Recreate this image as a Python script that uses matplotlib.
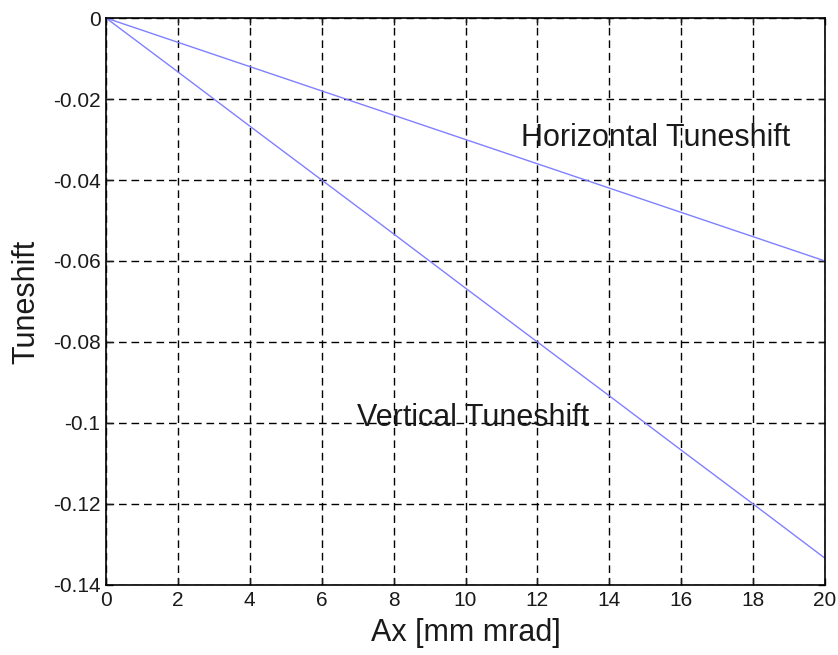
import matplotlib
matplotlib.use("Agg")
import matplotlib.pyplot as plt

plt.rcParams['font.family'] = ['Liberation Sans', 'DejaVu Sans']

# Betatron amplitude Ax [mm mrad]
ax_amp = [0, 2, 4, 6, 8, 10, 12, 14, 16, 18, 20]
# Tune shifts vs. horizontal amplitude
horizontal_shift = [0, -0.006, -0.012, -0.018, -0.024, -0.030, -0.036, -0.042, -0.048, -0.054, -0.060]
vertical_shift = [0, -0.0133, -0.0267, -0.040, -0.0533, -0.0667, -0.080, -0.0933, -0.1067, -0.120, -0.1334]

xticks = [0, 2, 4, 6, 8, 10, 12, 14, 16, 18, 20]
yticks = [0, -0.02, -0.04, -0.06, -0.08, -0.1, -0.12, -0.14]
ytick_labels = ['0', '-0.02', '-0.04', '-0.06', '-0.08', '-0.1', '-0.12', '-0.14']

fig = plt.figure(figsize=(8.38, 6.55), dpi=100)
ax = fig.add_axes([0.1265, 0.1069, 0.858, 0.8656])

line_color = '#8080ff'
ax.plot(ax_amp, horizontal_shift, color=line_color, lw=1.0)
ax.plot(ax_amp, vertical_shift, color=line_color, lw=1.0)

ax.set_xlim(0, 20)
ax.set_ylim(-0.14, 0)
ax.set_xticks(xticks)
ax.set_xticklabels([str(t) for t in xticks])
ax.set_yticks(yticks)
ax.set_yticklabels(ytick_labels)

ax.grid(True, color='black', linestyle=(0, (5.5, 3.5)), linewidth=1.0)
ax.tick_params(direction='in', top=True, right=True, length=5, width=1.0,
               labelsize=15, pad=4, colors='#1a1a1a')
for s in ax.spines.values():
    s.set_linewidth(1.2)

ax.set_xlabel('Ax [mm mrad]', fontsize=22, labelpad=6, color='#1a1a1a')
ax.set_ylabel('Tuneshift', fontsize=22, labelpad=8, color='#1a1a1a')

ax.text(15.3, -0.0316, 'Horizontal Tuneshift', fontsize=22, ha='center',
        va='baseline', color='#1a1a1a')
ax.text(10.22, -0.1007, 'Vertical Tuneshift', fontsize=22, ha='center',
        va='baseline', color='#1a1a1a')

fig.savefig('out.png', dpi=100)
